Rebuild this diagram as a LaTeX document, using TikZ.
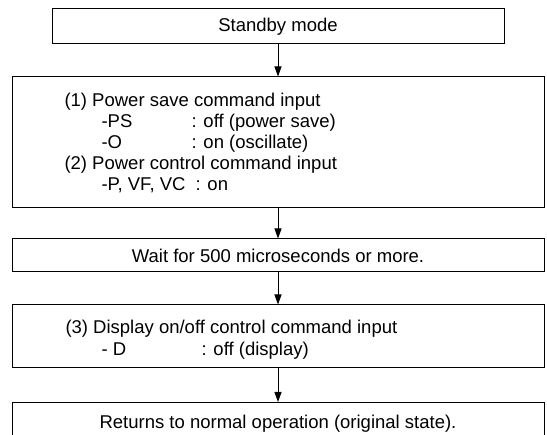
\documentclass[tikz,border=0pt]{standalone}
\usepackage{fontspec}
\setmainfont{Liberation Sans}
\usetikzlibrary{arrows.meta}

\begin{document}
\begin{tikzpicture}[
    x=1pt, y=-1pt,
    >={Triangle[width=7pt,length=10pt]},
    line width=1pt,
    box/.style={rectangle, draw, inner sep=0pt, minimum width=532pt,
                font=\fontsize{18.5}{22}\selectfont},
    txt/.style={anchor=base west, inner sep=0pt,
                font=\fontsize{18.5}{22}\selectfont}
]
  \useasboundingbox (0,0) rectangle (547,435);
  \clip (0,0) rectangle (547,435);

  %--- boxes ---
  \node[box, minimum width=452pt, minimum height=35pt] (standby) at (278,26.5) {Standby mode};
  \node[box, minimum height=131pt] (cmds) at (278,142.5) {};
  \node[box, minimum height=33pt] (wait) at (278,255.5) {Wait for 500 microseconds or more.};
  \node[box, minimum height=63pt] (disp) at (278,336.5) {};
  \node[box, anchor=north, text height=26pt, text depth=20pt] (ret) at (278,402)
      {Returns to normal operation (original state).};

  %--- texts inside the boxes ---
  \node[txt] (c1)  at (64,107)  {(1) Power save command input};
  \node[txt] (ps)  at (101,128) {-PS};
  \node[txt] (psv) at (191,128) {: off (power save)};
  \node[txt] (o)   at (101,149) {-O};
  \node[txt] (ov)  at (191,149) {: on (oscillate)};
  \node[txt] (c2)  at (64,170)  {(2) Power control command input};
  \node[txt] (pv)  at (101,191) {-P, VF, VC};
  \node[txt] (pvv) at (195,191) {: on};
  \node[txt] (c3)  at (65,334)  {(3) Display on/off control command input};
  \node[txt] (d)   at (101,356) {- D};
  \node[txt] (dv)  at (201,356) {: off (display)};

  %--- arrows ---
  \draw[->] (standby) -- (cmds);
  \draw[->] (cmds) -- (wait);
  \draw[->] (wait) -- (disp);
  \draw[->] (disp) -- (ret);
\end{tikzpicture}
\end{document}
